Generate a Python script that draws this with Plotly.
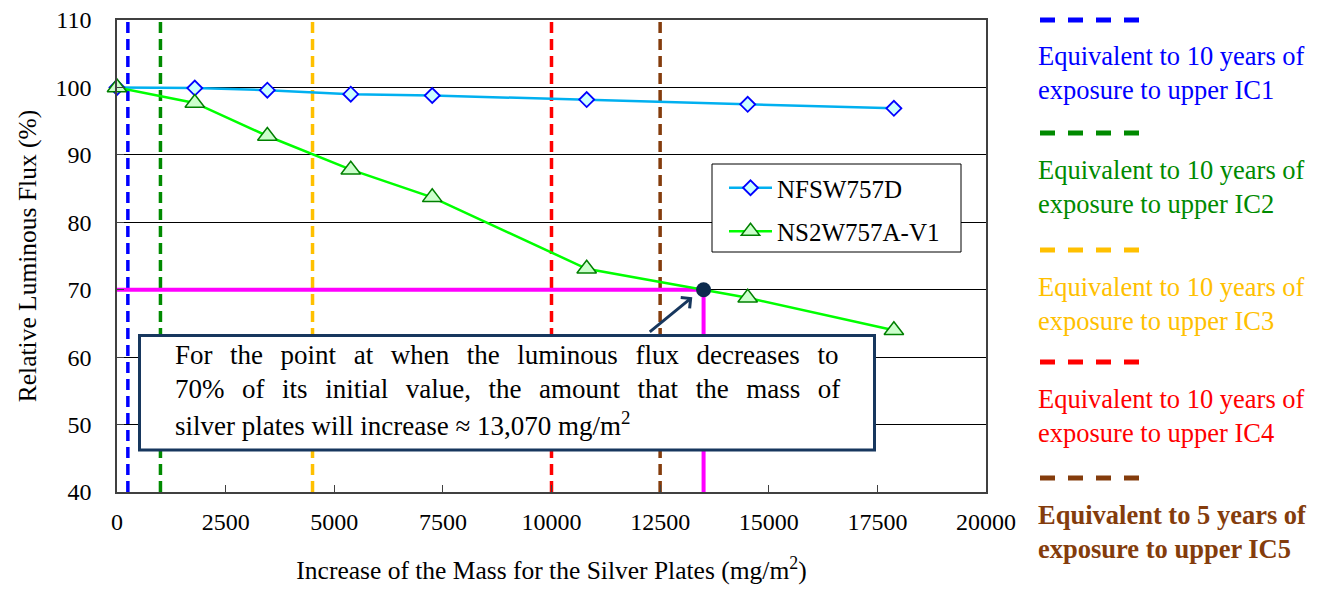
import plotly.graph_objects as go

# ---- data ----
mass_x = [0, 1790, 3460, 5380, 7255, 10810, 14515, 17880]
nfsw757d = [100, 99.9, 99.6, 99.0, 98.8, 98.2, 97.5, 96.9]
ns2w757a = [100, 97.7, 92.8, 87.8, 83.7, 73.1, 68.8, 64.0]

ic_x = [250, 1000, 4500, 10000, 12500]
ic_colors = ["#0000FF", "#008A00", "#FFC000", "#FF0000", "#843C0C"]
ic_labels = [
    "Equivalent to 10 years of<br>exposure to upper IC1",
    "Equivalent to 10 years of<br>exposure to upper IC2",
    "Equivalent to 10 years of<br>exposure to upper IC3",
    "Equivalent to 10 years of<br>exposure to upper IC4",
    "<b>Equivalent to 5 years of<br>exposure to upper IC5</b>",
]

point70_x = 13500
point70_y = 70
y_min, y_max = 40, 110
x_min, x_max = 0, 20000
x_ticks = list(range(0, 20001, 2500))
x_ticktext = [str(v) for v in x_ticks]
y_ticks = list(range(40, 111, 10))

FONT = "Times New Roman, Liberation Serif, DejaVu Serif, serif"
NAVY = "#17375E"

# page offset (default body margin) and plot area geometry in page pixels
OFF = 8
W, H = 1328 - OFF, 590 - OFF
PL, PR, PT, PB = 117, 986, 20, 492          # plot area edges on the page
L, T = PL - OFF, PT - OFF
R, B = W - (PR - OFF), H - (PB - OFF)
PW, PH = PR - PL, PB - PT


def pxx(p):
    return (p - PL) / PW


def pxy(p):
    return 1 - (p - PT) / PH


fig = go.Figure()

# IC dashed vertical lines
for xv, col in zip(ic_x, ic_colors):
    fig.add_trace(go.Scatter(
        x=[xv, xv], y=[y_min, y_max], mode="lines",
        line=dict(color=col, width=3.5, dash="11px,6px"),
        showlegend=False, hoverinfo="skip"))

# magenta 70% guide lines
fig.add_trace(go.Scatter(
    x=[x_min, point70_x, point70_x], y=[point70_y, point70_y, y_min],
    mode="lines", line=dict(color="#FF00FF", width=4),
    showlegend=False, hoverinfo="skip"))

fig.add_trace(go.Scatter(
    x=mass_x, y=nfsw757d, mode="lines+markers", name="NFSW757D",
    legendgroup="a",
    line=dict(color="#00B0F0", width=2.5),
    marker=dict(symbol="diamond", size=11.5, color="#CCFFFF",
                line=dict(color="#0000FF", width=1.8)),
    cliponaxis=False))

fig.add_trace(go.Scatter(
    x=mass_x, y=ns2w757a, mode="lines+markers", name="NS2W757A-V1",
    legendgroup="b",
    line=dict(color="#00FF00", width=2.5),
    marker=dict(symbol="triangle-up", size=17, color="#CCFFCC",
                line=dict(color="#008000", width=1.5)),
    cliponaxis=False))

fig.add_trace(go.Scatter(
    x=[point70_x], y=[point70_y], mode="markers",
    marker=dict(size=15, color="#0D2B4E"),
    showlegend=False, hoverinfo="skip", cliponaxis=False))

shapes = []
annotations = []

# legend frame
shapes.append(dict(type="rect", xref="paper", yref="paper",
                   x0=pxx(712), x1=pxx(961), y0=pxy(252), y1=pxy(164),
                   fillcolor="white", line=dict(color="black", width=1),
                   layer="above"))

# annotation box
shapes.append(dict(type="rect", xref="paper", yref="paper",
                   x0=pxx(139.5), x1=pxx(874.5), y0=pxy(450), y1=pxy(335.5),
                   fillcolor="white", line=dict(color=NAVY, width=3),
                   layer="above"))

gap = " \u2009\u2009"
line1 = gap.join("For the point at when the luminous flux decreases to".split(" "))
line2 = gap.join("70% of its initial value, the amount that the mass of".split(" "))
line3 = "silver plates will increase \u2248 13,070 mg/m<sup>2</sup>"
for txt, yc in [(line1, 355), (line2, 389), (line3, 424)]:
    annotations.append(dict(
        xref="paper", yref="paper", x=pxx(173), y=pxy(yc),
        xanchor="left", yanchor="middle", showarrow=False, text=txt,
        font=dict(family=FONT, size=27, color="black")))

# arrow
annotations.append(dict(
    xref="x", yref="y", x=13240, y=68.9, ax=-44, ay=36,
    axref="pixel", ayref="pixel", text="", showarrow=True,
    arrowhead=4, arrowsize=0.9, arrowwidth=3, arrowcolor=NAVY))

# right side IC legend
dash_y = [20, 133, 250, 362, 478]
text_y = [73, 187, 304, 416, 532]
for col, lab, dy, ty in zip(ic_colors, ic_labels, dash_y, text_y):
    shapes.append(dict(type="line", xref="paper", yref="paper",
                       x0=pxx(1040), x1=pxx(1141), y0=pxy(dy), y1=pxy(dy),
                       line=dict(color=col, width=5, dash="15px,13px")))
    annotations.append(dict(
        xref="paper", yref="paper", x=pxx(1036), y=pxy(ty),
        xanchor="left", yanchor="middle", align="left", showarrow=False,
        text=lab, font=dict(family=FONT, size=26.5, color=col)))

fig.update_layout(
    width=W, height=H,
    margin=dict(l=L, r=R, t=T, b=B, autoexpand=False),
    paper_bgcolor="white", plot_bgcolor="white",
    font=dict(family=FONT, size=24, color="black"),
    shapes=shapes, annotations=annotations,
    legend=dict(x=pxx(724), y=pxy(165), xanchor="left", yanchor="top",
                borderwidth=0, bgcolor="rgba(0,0,0,0)",
                font=dict(family=FONT, size=25, color="black"),
                itemwidth=43, tracegroupgap=8),
    xaxis=dict(range=[x_min, x_max], tickvals=x_ticks, ticktext=x_ticktext,
               ticks="inside", ticklen=7, tickcolor="#404040",
               showline=True, mirror=True, linecolor="#404040", linewidth=1.5,
               showgrid=False, zeroline=False, automargin=False,
               ticklabelstandoff=7, ticklabeloverflow="allow",
               title=dict(text="Increase of the Mass for the Silver Plates (mg/m<sup>2</sup>)",
                          font=dict(family=FONT, size=25.5), standoff=28)),
    yaxis=dict(range=[y_min, y_max], tickvals=y_ticks,
               ticks="inside", ticklen=7, tickcolor="#404040",
               showline=True, mirror=True, linecolor="#404040", linewidth=1.5,
               showgrid=True, gridcolor="black", gridwidth=1, zeroline=False,
               automargin=False, ticklabeloverflow="allow",
               ticklabelstandoff=19,
               title=dict(text="Relative Luminous Flux (%)",
                          font=dict(family=FONT, size=25.5), standoff=12)),
)

fig.write_html("out.html")
